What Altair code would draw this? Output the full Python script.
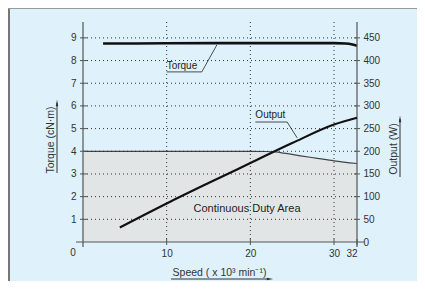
import altair as alt
import pandas as pd

# ---- data ----
speed_torque = [2.4, 10, 20, 30, 31, 31.5, 32]
torque_vals = [8.75, 8.76, 8.77, 8.77, 8.75, 8.72, 8.65]

speed_output = [4.4, 10, 15, 20, 25, 30, 32]
output_vals = [32, 85, 130, 174, 218, 259, 274]

speed_duty = [0, 10, 20, 22, 23, 24, 26, 28, 30, 32]
duty_vals = [4.0, 4.0, 4.0, 3.99, 3.97, 3.92, 3.80, 3.69, 3.58, 3.46]

x_ticks = [10, 20, 30, 32]
x_grid = [10, 20, 30]
torque_ticks = [1, 2, 3, 4, 5, 6, 7, 8, 9]
output_ticks = [0, 50, 100, 150, 200, 250, 300, 350, 400, 450]

FONT = "Liberation Sans"
TXT = "#333333"
LINE = "#111111"
AX = "#555555"
BG = "#dff1fb"
FILL = "#e3dfdd"

W, H = 274, 220

xs = alt.Scale(domain=[0, 30, 32], range=[0, 251, W], nice=False, zero=False)
ys_t = alt.Scale(domain=[0, 9.7], nice=False, zero=False)
ys_o = alt.Scale(domain=[0, 485], nice=False, zero=False)

df_t = pd.DataFrame({"speed": speed_torque, "torque": torque_vals})
df_o = pd.DataFrame({"speed": speed_output, "output": output_vals})
df_d = pd.DataFrame({"speed": speed_duty, "torque": duty_vals})
one = pd.DataFrame({"a": [0]})

xaxis = alt.Axis(values=x_ticks, domain=False, ticks=False, grid=False, labelPadding=6,
                 labelFontSize=10, labelColor=TXT, labelFont=FONT, title=None)
yaxis_l = alt.Axis(values=torque_ticks, domain=False, ticks=False, grid=False, labelPadding=7,
                   labelFontSize=10, labelColor=TXT, labelFont=FONT, title=None)
yaxis_r = alt.Axis(orient="right", values=output_ticks, domain=False, ticks=False, grid=False,
                   labelPadding=6, labelFontSize=10, labelColor=TXT, labelFont=FONT, title=None)


def X(f):
    return alt.X(f, scale=xs, axis=xaxis)


def YT(f):
    return alt.Y(f, scale=ys_t, axis=yaxis_l)


def YO(f):
    return alt.Y(f, scale=ys_o, axis=yaxis_r)


# duty area
area = alt.Chart(df_d).mark_area(color=FILL, interpolate="monotone",
                                 line={"color": "#444444", "strokeWidth": 1.2}).encode(
    x=X("speed:Q"), y=YT("torque:Q"))

# grid
hgrid = alt.Chart(pd.DataFrame({"v": torque_ticks})).mark_rule(
    color="#333333", strokeWidth=1, strokeDash=[1, 3]).encode(
    x=alt.value(0), x2=alt.value(W), y=YT("v:Q"))
vgrid = alt.Chart(pd.DataFrame({"speed": x_grid})).mark_rule(
    color="#333333", strokeWidth=1, strokeDash=[1, 3]).encode(
    x=X("speed:Q"), y=alt.value(0), y2=alt.value(H))

# ticks crossing the axes
lticks = alt.Chart(pd.DataFrame({"v": torque_ticks})).mark_rule(color=AX, strokeWidth=1).encode(
    x=alt.value(-3), x2=alt.value(4), y=YT("v:Q"))
xticks = alt.Chart(pd.DataFrame({"speed": x_ticks})).mark_rule(color=AX, strokeWidth=1).encode(
    x=X("speed:Q"), y=alt.value(H - 3), y2=alt.value(H + 3))

torque_line = alt.Chart(df_t).mark_line(color=LINE, strokeWidth=2.6, interpolate="monotone").encode(
    x=X("speed:Q"), y=YT("torque:Q"))

# annotations (data coordinates)
lead_t = pd.DataFrame({"speed": [10.0, 14.2, 16.0], "torque": [7.5, 7.5, 8.69], "o": [0, 1, 2]})
lead_o = pd.DataFrame({"speed": [20.6, 24.4, 25.6], "torque": [5.29, 5.29, 4.59], "o": [0, 1, 2]})
leaders = [
    alt.Chart(d).mark_line(color="#222222", strokeWidth=0.8).encode(
        x=X("speed:Q"), y=YT("torque:Q"), order="o:Q")
    for d in (lead_t, lead_o)
]
ann = pd.DataFrame({"speed": [10.0, 20.6], "torque": [7.78, 5.58], "t": ["Torque", "Output"]})
ann_text = alt.Chart(ann).mark_text(align="left", baseline="middle", fontSize=10, font=FONT,
                                    color="#222222").encode(
    x=X("speed:Q"), y=YT("torque:Q"), text="t:N")
duty_lbl = pd.DataFrame({"speed": [19.6], "torque": [1.46], "t": ["Continuous Duty Area"]})
duty_text = alt.Chart(duty_lbl).mark_text(align="center", baseline="middle", fontSize=11, font=FONT,
                                          color="#222222").encode(
    x=X("speed:Q"), y=YT("torque:Q"), text="t:N")


# axis lines and frame
def rule(**kw):
    return alt.Chart(one).mark_rule(color=kw.pop("color", AX), strokeWidth=kw.pop("sw", 1.2)).encode(**kw)


xline = rule(x=alt.value(-7), x2=alt.value(W + 8), y=alt.value(H))
lline = rule(x=alt.value(0), y=alt.value(0), y2=alt.value(H + 5))
rline = rule(x=alt.value(W), y=alt.value(0), y2=alt.value(H + 5))
border_l = rule(x=alt.value(-74), y=alt.value(-14), y2=alt.value(H + 40), color="#777777", sw=2)
border_t = rule(x=alt.value(-75), x2=alt.value(W + 61), y=alt.value(-13.5), color="#999999", sw=1)


def text(t, x, y, angle=0, size=10.5, align="center"):
    return alt.Chart(one).mark_text(text=t, angle=angle, fontSize=size, font=FONT, color=TXT,
                                    align=align, baseline="middle").encode(
        x=alt.value(x), y=alt.value(y))


zero_lbl = text("0", -10, 231, size=10)
t_left = text("Torque (cN·m)", -32, 118, angle=270)
t_right = text("Output (W)", 311, 127, angle=270)
t_bottom = text("Speed ( x 10³ min⁻¹)", 136.5, 251)

ul_left = rule(x=alt.value(-26), y=alt.value(81), y2=alt.value(151), color="#333333", sw=1)
ul_right = rule(x=alt.value(317), y=alt.value(97), y2=alt.value(155), color="#333333", sw=1)
ul_bottom = rule(x=alt.value(88), x2=alt.value(186), y=alt.value(257), color="#333333", sw=1)


def arrow(x, y, path):
    return alt.Chart(one).mark_point(shape=path, filled=True, size=40, color="#333333",
                                     opacity=1, strokeWidth=0).encode(x=alt.value(x), y=alt.value(y))


ar_left = arrow(-26, 81, "M0,-1L0.4,1L-0.4,1Z")
ar_right = arrow(317, 97, "M0,-1L0.4,1L-0.4,1Z")
ar_bottom = arrow(187, 257, "M1,0L-1,0.4L-1,-0.4Z")

left_group = alt.layer(
    area, hgrid, vgrid, lticks, xticks, torque_line, *leaders, ann_text, duty_text,
    xline, lline, rline, border_l, border_t, zero_lbl, t_left, t_right, t_bottom,
    ul_left, ul_right, ul_bottom, ar_left, ar_right, ar_bottom,
)

output_line = alt.Chart(df_o).mark_line(color=LINE, strokeWidth=2.2, interpolate="monotone").encode(
    x=X("speed:Q"), y=YO("output:Q"))
rticks = alt.Chart(pd.DataFrame({"v": output_ticks[1:]})).mark_rule(color=AX, strokeWidth=1).encode(
    x=alt.value(W - 3), x2=alt.value(W + 3), y=YO("v:Q"))
right_group = alt.layer(output_line, rticks)

chart = alt.layer(left_group, right_group).resolve_scale(y="independent").properties(
    width=W, height=H,
    autosize=alt.AutoSizeParams(type="none"),
    padding={"left": 75, "top": 14, "right": 60, "bottom": 39},
    background=BG,
).configure_view(stroke=None)

chart.save("out.html", embed_options={"renderer": "svg", "actions": False})
